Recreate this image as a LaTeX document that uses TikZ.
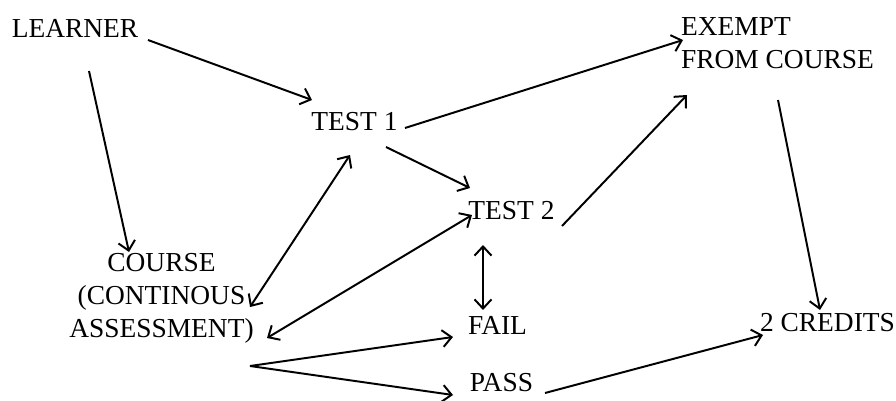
\documentclass[tikz,border=0pt]{standalone}
\usepackage{fontspec}
\setmainfont{Liberation Serif}
\usetikzlibrary{arrows.meta}
\tikzset{
  lbl/.style={inner sep=0pt, font=\fontsize{19.5}{23.5}\selectfont},
  flow/.style={-{Straight Barb[length=6.5pt,width=12pt]}, line width=1.4pt},
  twoway/.style={{Straight Barb[length=6.5pt,width=12pt]}-{Straight Barb[length=6.5pt,width=12pt]}, line width=1.4pt}
}
\begin{document}
\begin{tikzpicture}[x=0.025cm, y=-0.025cm]
\useasboundingbox (0,0) rectangle (896,401);
% boxes of text
\node[lbl] (learner) at (75,28.5) {LEARNER};
\node[lbl] (test1) at (354.5,122) {TEST 1};
\node[lbl] (test2) at (511.5,211) {TEST 2};
\node[lbl, align=left] (exempt) at (777.5,43.5) {EXEMPT\\FROM COURSE};
\node[lbl, align=center] (course) at (161.5,298) {COURSE\\(CONTINOUS\\ASSESSMENT)};
\node[lbl] (fail) at (497.5,325) {FAIL};
\node[lbl] (pass) at (501.5,383) {PASS};
\node[lbl] (credits) at (827.5,323) {2 CREDITS};
\coordinate (fork) at ([shift={(88.5,68)}]course.center);
% arrows
\draw[flow] ([shift={(73,11.5)}]learner.center) -- ([shift={(-42.5,-22)}]test1.center);
\draw[flow] ([shift={(14,42.5)}]learner.center) -- ([shift={(-32.5,-46)}]course.center);
\draw[flow] ([shift={(50.5,6)}]test1.center) -- ([shift={(-94.5,-3.5)}]exempt.center);
\draw[flow] ([shift={(31.5,25)}]test1.center) -- ([shift={(-41.5,-23)}]test2.center);
\draw[flow] ([shift={(50.5,15)}]test2.center) -- ([shift={(-90.5,51.5)}]exempt.center);
\draw[flow] ([shift={(0.5,56.5)}]exempt.center) -- ([shift={(-7.5,-13)}]credits.center);
\draw[twoway] ([shift={(-28.5,34)}]test2.center) -- ([shift={(-14.5,-15)}]fail.center);
\draw[twoway] ([shift={(88.5,9)}]course.center) -- ([shift={(-4.5,33)}]test1.center);
\draw[twoway] ([shift={(105.5,40)}]course.center) -- ([shift={(-39.5,4)}]test2.center);
\draw[flow] (fork) -- ([shift={(-44.5,12)}]fail.center);
\draw[flow] (fork) -- ([shift={(-48.5,12)}]pass.center);
\draw[flow] ([shift={(43.5,10)}]pass.center) -- ([shift={(-64.5,12)}]credits.center);
\end{tikzpicture}
\end{document}
